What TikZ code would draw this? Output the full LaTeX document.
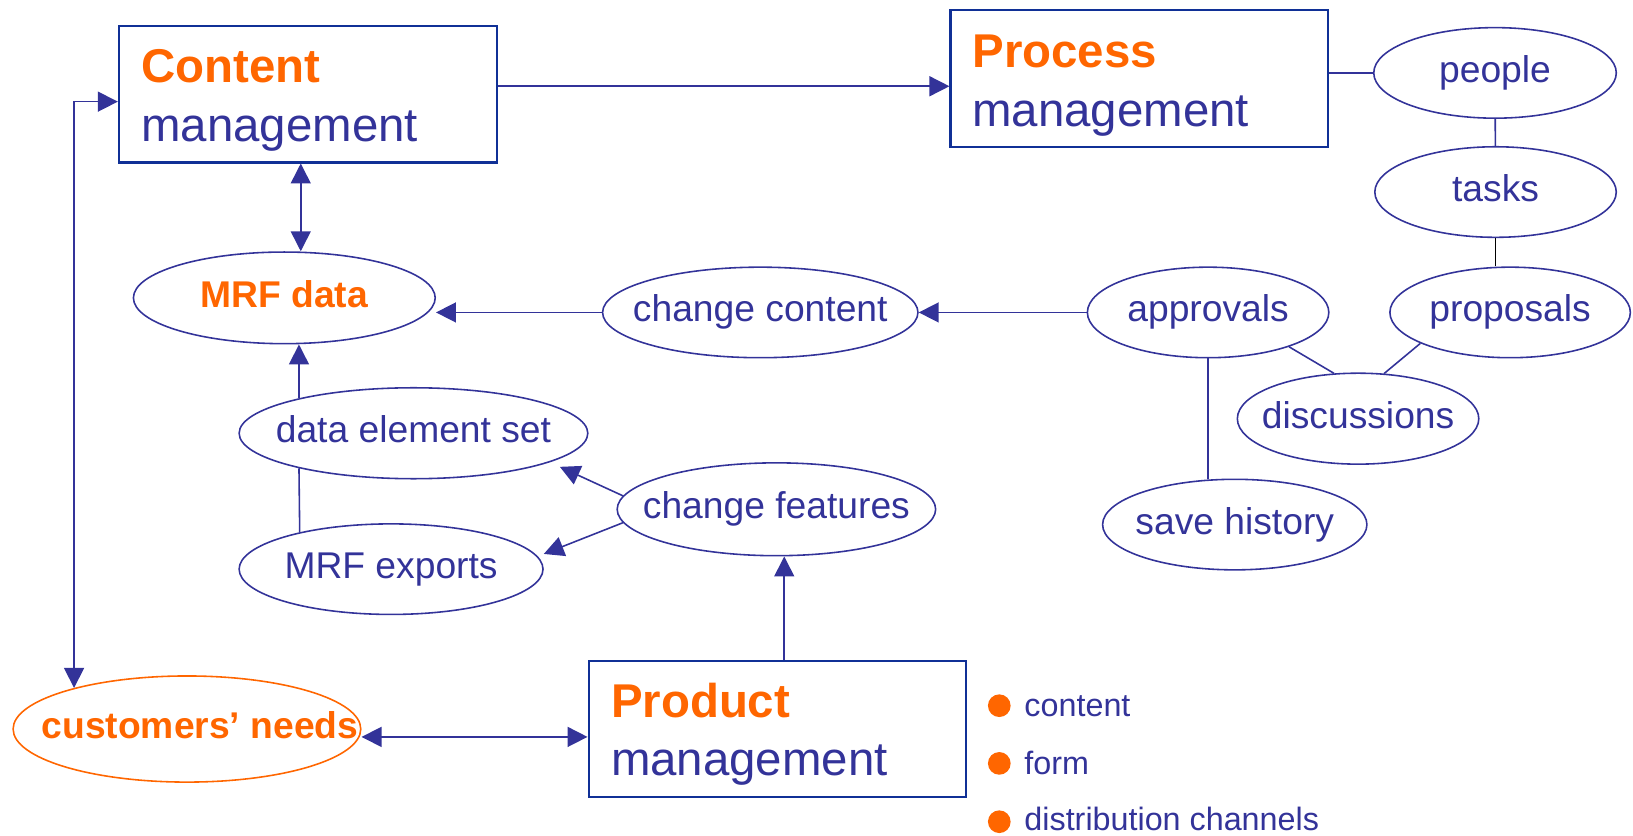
\documentclass[tikz,border=0pt]{standalone}
\usepackage{fontspec}
\setmainfont{Liberation Sans}
\usetikzlibrary{shapes.geometric,arrows.meta}
\definecolor{mblue}{RGB}{51,51,153}
\definecolor{bblue}{RGB}{16,48,150}
\definecolor{morange}{RGB}{255,102,0}
\newcommand{\inell}[1]{\makebox[0pt]{#1}}
\tikzstyle{mgmt} = [rectangle, draw=bblue, line width=0.6pt, minimum width=3.78cm, minimum height=1.365cm, inner sep=0pt]
\tikzstyle{mgmttxt} = [anchor=base west, inner sep=0pt, font=\fontsize{13.5}{16}\selectfont]
\tikzstyle{oval} = [ellipse, draw=mblue, line width=0.45pt, inner sep=0pt, text=mblue, text height=0.26cm, text depth=0.07cm, font=\fontsize{10.6}{12}\selectfont]
\tikzstyle{conn} = [draw=mblue, line width=0.45pt]
\tikzstyle{arr} = [conn, -{Triangle[length=2mm,width=2mm]}]
\tikzstyle{dblarr} = [conn, {Triangle[length=2mm,width=2mm]}-{Triangle[length=2mm,width=2mm]}]
\tikzstyle{dot} = [circle, fill=morange, minimum size=0.227cm, inner sep=0pt]
\tikzstyle{itemtxt} = [anchor=base west, inner sep=0pt, text=mblue, font=\fontsize{9.2}{11}\selectfont]

\begin{document}
\begin{tikzpicture}[x=0.010415cm, y=-0.010415cm]
\useasboundingbox (0,0) rectangle (1568,802.7);

\node[mgmt] (content) at (295.5,90.5) {};
\node[mgmttxt, text=morange] (contenttop) at (135,79.5) {\textbf{Content}};
\node[mgmttxt, text=mblue] (contentbot) at (135,136) {management};

\node[mgmt] (process) at (1094,75.5) {};
\node[mgmttxt, text=morange] (processtop) at (933,64.7) {\textbf{Process}};
\node[mgmttxt, text=mblue] (processbot) at (933,121.2) {management};

\node[mgmt] (product) at (746.5,700) {};
\node[mgmttxt, text=morange] (producttop) at (586,688.5) {\textbf{Product}};
\node[mgmttxt, text=mblue] (productbot) at (586,745) {management};

\node[oval, minimum width=2.427cm, minimum height=0.906cm] (people) at (1435.5,70) {\inell{people}};
\node[oval, minimum width=2.416cm, minimum height=0.906cm] (tasks) at (1436,184.4) {\inell{tasks}};
\node[oval, minimum width=2.406cm, minimum height=0.906cm] (proposals) at (1450,300) {\inell{proposals}};
\node[oval, minimum width=2.416cm, minimum height=0.906cm] (approvals) at (1160,300) {\inell{approvals}};
\node[oval, minimum width=2.416cm, minimum height=0.910cm] (discussions) at (1304,402) {\inell{discussions}};
\node[oval, minimum width=2.645cm, minimum height=0.906cm] (savehist) at (1185.6,503.7) {\inell{save history}};
\node[oval, minimum width=3.156cm, minimum height=0.906cm] (chcontent) at (730,300) {\inell{change content}};
\node[oval, text=morange, minimum width=3.020cm, minimum height=0.917cm] (mrfdata) at (273,286) {\inell{\textbf{MRF data}}};
\node[oval, minimum width=3.489cm, minimum height=0.910cm] (desset) at (397,416) {\inell{data element set}};
\node[oval, minimum width=3.187cm, minimum height=0.929cm] (chfeat) at (745.5,489) {\inell{change features}};
\node[oval, minimum width=3.041cm, minimum height=0.906cm] (mrfexp) at (375.5,546.5) {\inell{MRF exports}};
\node[oval, draw=morange, text=morange, minimum width=3.479cm, minimum height=1.062cm] (cneeds) at (179.5,700) {\inell{\hspace{0.26cm}\textbf{customers' needs}}};

\node[dot] (dot1) at (959.5,677.6) {};
\node[itemtxt] (item1) at (983,687.5) {content};
\node[dot] (dot2) at (959.5,733) {};
\node[itemtxt] (item2) at (983,743.5) {form};
\node[dot] (dot3) at (959.5,789) {};
\node[itemtxt] (item3) at (983,797) {distribution channels};

\draw[arr] ([yshift=0.08cm]content.east) -- ([yshift=0.08cm]content.east -| process.west);
\draw[dblarr] ([xshift=-0.07cm]content.south) -- ([xshift=-0.07cm]content.south |- mrfdata.north);
\draw[dblarr] (cneeds.160) |- ([yshift=-0.074cm]content.west);
\draw[arr] (chcontent.west) -- (chcontent.west -| mrfdata.east);
\draw[arr] (approvals) -- (chcontent);
\draw[arr] (desset.163) -- (desset.163 |- mrfdata.south);
\draw[conn] (desset.197) -- (mrfexp.158);
\draw[arr, shorten >=0.11cm] (chfeat.175) -- (desset.-12);
\draw[arr, shorten >=0.065cm] (chfeat.185) -- (mrfexp.5);
\draw[arr] ([xshift=0.068cm]product.north) -- ([xshift=0.068cm]product.north |- chfeat.south);
\draw[dblarr] ([yshift=-0.079cm]product.west) -- ([yshift=-0.079cm]product.west -| cneeds.east);

\draw[conn] (people.west -| process.east) -- (people.west);
\draw[conn] (people) -- (tasks);
\draw[black, line width=0.45pt] (tasks.south) -- (tasks.south |- proposals.north);
\draw[conn] (approvals.-23) -- (discussions.118);
\draw[conn] (proposals.199) -- (discussions.60);
\draw[conn] (approvals.south) -- (approvals.south |- savehist.north);

\end{tikzpicture}
\end{document}
